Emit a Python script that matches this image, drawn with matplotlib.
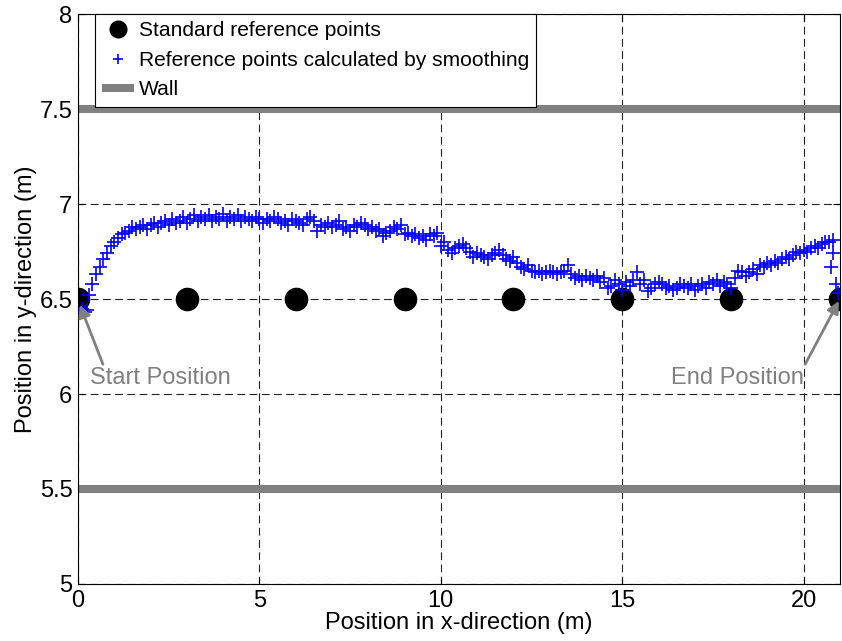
import matplotlib
matplotlib.use('Agg')
import matplotlib.pyplot as plt

plt.rcParams['font.family'] = ['Liberation Sans', 'DejaVu Sans']

# standard reference points (every 3 m along the corridor centre)
std_x = [0, 3, 6, 9, 12, 15, 18, 21]
std_y = [6.5, 6.5, 6.5, 6.5, 6.5, 6.5, 6.5, 6.5]

# reference points calculated by smoothing
smooth_x = [
    0.10, 0.20, 0.25,
    0.3, 0.4, 0.5, 0.6, 0.7, 0.8, 0.9, 1.0, 1.1, 1.2,
    1.3, 1.4, 1.5, 1.6, 1.7, 1.8, 1.9, 2.0, 2.1, 2.2,
    2.3, 2.4, 2.5, 2.6, 2.7, 2.8, 2.9, 3.0, 3.1, 3.2,
    3.3, 3.4, 3.5, 3.6, 3.7, 3.8, 3.9, 4.0, 4.1, 4.2,
    4.3, 4.4, 4.5, 4.6, 4.7, 4.8, 4.9, 5.0, 5.1, 5.2,
    5.3, 5.4, 5.5, 5.6, 5.7, 5.8, 5.9, 6.0, 6.1, 6.2,
    6.3, 6.4, 6.5, 6.6, 6.7, 6.8, 6.9, 7.0, 7.1, 7.2,
    7.3, 7.4, 7.5, 7.6, 7.7, 7.8, 7.9, 8.0, 8.1, 8.2,
    8.3, 8.4, 8.5, 8.6, 8.7, 8.8, 8.9, 9.0, 9.1, 9.2,
    9.3, 9.4, 9.5, 9.6, 9.7, 9.8, 9.9, 10.0, 10.1, 10.2,
    10.3, 10.4, 10.5, 10.6, 10.7, 10.8, 10.9, 11.0, 11.1, 11.2,
    11.3, 11.4, 11.5, 11.6, 11.7, 11.8, 11.9, 12.0, 12.1, 12.2,
    12.3, 12.4, 12.5, 12.6, 12.7, 12.8, 12.9, 13.0, 13.1, 13.2,
    13.3, 13.4, 13.5, 13.6, 13.7, 13.8, 13.9, 14.0, 14.1, 14.2,
    14.3, 14.4, 14.5, 14.6, 14.7, 14.8, 14.9, 15.0, 15.1, 15.2,
    15.3, 15.4, 15.5, 15.6, 15.7, 15.8, 15.9, 16.0, 16.1, 16.2,
    16.3, 16.4, 16.5, 16.6, 16.7, 16.8, 16.9, 17.0, 17.1, 17.2,
    17.3, 17.4, 17.5, 17.6, 17.7, 17.8, 17.9, 18.0, 18.1, 18.2,
    18.3, 18.4, 18.5, 18.6, 18.7, 18.8, 18.9, 19.0, 19.1, 19.2,
    19.3, 19.4, 19.5, 19.6, 19.7, 19.8, 19.9, 20.0, 20.1, 20.2,
    20.3, 20.4, 20.5, 20.6, 20.7, 20.8,
    20.80, 20.76, 20.88, 20.95,
]
smooth_y = [
    6.45, 6.43, 6.44,
    6.52, 6.58, 6.63, 6.67, 6.71, 6.74, 6.78, 6.80, 6.82, 6.84,
    6.85, 6.86, 6.88, 6.87, 6.88, 6.89, 6.87, 6.89, 6.90, 6.88,
    6.90, 6.91, 6.89, 6.92, 6.90, 6.91, 6.93, 6.90, 6.92, 6.94,
    6.91, 6.93, 6.92, 6.94, 6.91, 6.93, 6.92, 6.95, 6.91, 6.93,
    6.92, 6.94, 6.91, 6.93, 6.92, 6.91, 6.93, 6.92, 6.90, 6.92,
    6.91, 6.93, 6.92, 6.90, 6.91, 6.89, 6.92, 6.91, 6.90, 6.89,
    6.92, 6.93, 6.91, 6.86, 6.89, 6.88, 6.90, 6.88, 6.89, 6.91,
    6.87, 6.88, 6.86, 6.89, 6.88, 6.90, 6.89, 6.87, 6.88, 6.86,
    6.87, 6.83, 6.85, 6.86, 6.88, 6.87, 6.89, 6.84, 6.85, 6.83,
    6.84, 6.82, 6.83, 6.81, 6.84, 6.83, 6.85, 6.78, 6.80, 6.76,
    6.74, 6.77, 6.78, 6.79, 6.77, 6.75, 6.72, 6.74, 6.73, 6.72,
    6.71, 6.73, 6.74, 6.76, 6.73, 6.71, 6.70, 6.72, 6.69, 6.67,
    6.66, 6.68, 6.65, 6.64, 6.65, 6.63, 6.64, 6.65, 6.64, 6.63,
    6.64, 6.65, 6.68, 6.63, 6.61, 6.62, 6.60, 6.62, 6.61, 6.60,
    6.62, 6.59, 6.61, 6.56, 6.57, 6.60, 6.58, 6.55, 6.59, 6.57,
    6.60, 6.64, 6.58, 6.60, 6.54, 6.56, 6.58, 6.59, 6.58, 6.56,
    6.57, 6.55, 6.56, 6.58, 6.57, 6.56, 6.58, 6.55, 6.57, 6.58,
    6.56, 6.59, 6.58, 6.60, 6.57, 6.59, 6.58, 6.56, 6.61, 6.65,
    6.64, 6.62, 6.64, 6.66, 6.63, 6.68, 6.67, 6.69, 6.68, 6.70,
    6.69, 6.71, 6.72, 6.71, 6.73, 6.75, 6.74, 6.76, 6.75, 6.77,
    6.78, 6.77, 6.79, 6.80, 6.80, 6.81,
    6.74, 6.67, 6.58, 6.53,
]

# walls of the corridor
wall_x = [0, 21]
wall_low = [5.5, 5.5]
wall_high = [7.5, 7.5]

fig = plt.figure(figsize=(8.42, 6.41), dpi=100)
ax = fig.add_axes([0.0926, 0.089, 0.905, 0.889])

ax.plot(std_x, std_y, 'o', color='black', markersize=16, label='Standard reference points', zorder=3)
ax.plot(smooth_x, smooth_y, '+', color='blue', markersize=10, markeredgewidth=1.2,
        label='Reference points calculated by smoothing', zorder=4)
ax.plot(wall_x, wall_low, '-', color='#808080', linewidth=5.8, label='Wall', zorder=2, solid_capstyle='butt')
ax.plot(wall_x, wall_high, '-', color='#808080', linewidth=5.8, zorder=2, solid_capstyle='butt')

ax.set_xlim(0, 21)
ax.set_ylim(5, 8)
ax.set_xticks([0, 5, 10, 15, 20])
ax.set_yticks([5, 5.5, 6, 6.5, 7, 7.5, 8])
ax.set_yticklabels(['5', '5.5', '6', '6.5', '7', '7.5', '8'])
ax.tick_params(direction='in', length=5, labelsize=17, top=True, right=True, pad=4)
ax.grid(True, color='#222222', linestyle=(0, (7, 4)), linewidth=0.8)
ax.set_axisbelow(True)
for s in ax.spines.values():
    s.set_linewidth(0.8)

ax.set_xlabel('Position in x-direction (m)', fontsize=17, labelpad=0)
ax.set_ylabel('Position in y-direction (m)', fontsize=17, labelpad=2)

# start / end annotations
ax.annotate('Start Position', xy=(0.05, 6.47), xytext=(0.33, 6.084),
            color='#808080', fontsize=17, va='center', ha='left',
            arrowprops=dict(arrowstyle='-|>', color='#808080', lw=2, mutation_scale=18,
                            shrinkA=0, shrinkB=0, relpos=(0.1, 1.0)), zorder=6)
ax.annotate('End Position', xy=(20.97, 6.49), xytext=(20.0, 6.084),
            color='#808080', fontsize=17, va='center', ha='right',
            arrowprops=dict(arrowstyle='-|>', color='#808080', lw=2, mutation_scale=18,
                            shrinkA=0, shrinkB=0, relpos=(1.0, 1.0)), zorder=6)

leg = ax.legend(loc='upper left', bbox_to_anchor=(0.022, 1.0), fontsize=15.1, frameon=True,
                fancybox=False, edgecolor='black', framealpha=1, borderpad=0.35,
                handlelength=1.5, handletextpad=0.25, labelspacing=0.5, borderaxespad=0,
                markerscale=0.75)
leg.get_frame().set_linewidth(0.8)
leg.set_zorder(10)

fig.savefig('out.png', dpi=100)
